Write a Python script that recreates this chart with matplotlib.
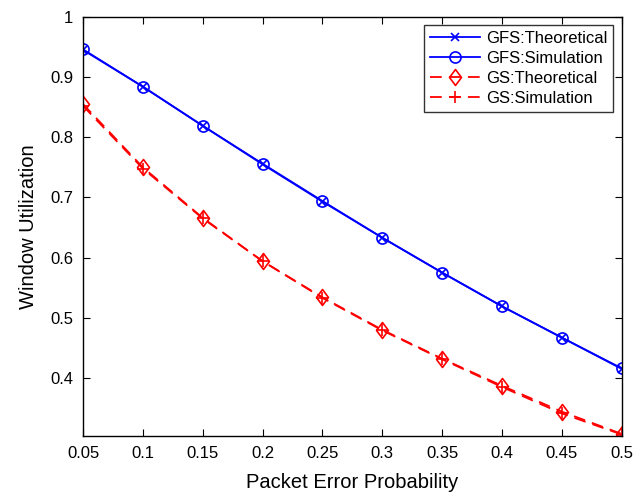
import matplotlib
matplotlib.use("Agg")
import matplotlib.pyplot as plt
from matplotlib.path import Path

plt.rcParams['font.family'] = ['Liberation Sans', 'DejaVu Sans']

p = [0.05, 0.1, 0.15, 0.2, 0.25, 0.3, 0.35, 0.4, 0.45, 0.5]
gfs_theo = [0.945, 0.884, 0.819, 0.755, 0.693, 0.633, 0.575, 0.519, 0.467, 0.415]
gfs_sim = [0.946, 0.884, 0.819, 0.756, 0.694, 0.633, 0.575, 0.519, 0.467, 0.416]
gs_theo = [0.855, 0.750, 0.666, 0.594, 0.534, 0.480, 0.432, 0.387, 0.344, 0.307]
gs_sim = [0.852, 0.748, 0.665, 0.594, 0.533, 0.479, 0.431, 0.385, 0.341, 0.306]
xticks = [0.05, 0.1, 0.15, 0.2, 0.25, 0.3, 0.35, 0.4, 0.45, 0.5]
xticklabels = ['0.05', '0.1', '0.15', '0.2', '0.25', '0.3', '0.35', '0.4', '0.45', '0.5']
yticks = [0.4, 0.5, 0.6, 0.7, 0.8, 0.9, 1.0]
yticklabels = ['0.4', '0.5', '0.6', '0.7', '0.8', '0.9', '1']

diamond = Path([(0, 1), (0.75, 0), (0, -1), (-0.75, 0), (0, 1)],
               [Path.MOVETO, Path.LINETO, Path.LINETO, Path.LINETO, Path.CLOSEPOLY])

fig = plt.figure(figsize=(6.41, 4.96), dpi=100)
ax = fig.add_axes([0.1295, 0.121, 0.8405, 0.845])

lw = 1.3
dash = (0, (6.5, 4))
ax.plot(p, gfs_theo, color='blue', linestyle='-', marker='x', markersize=6, lw=lw,
        mew=1.2, label='GFS:Theoretical')
ax.plot(p, gfs_sim, color='blue', linestyle='-', marker='o', markersize=8, lw=lw,
        mfc='none', mew=1.2, label='GFS:Simulation')
ax.plot(p, gs_theo, color='red', linestyle=dash, marker=diamond, markersize=11.5, lw=lw,
        mfc='none', mew=1.2, label='GS:Theoretical')
ax.plot(p, gs_sim, color='red', linestyle=dash, marker='+', markersize=8, lw=lw,
        mew=1.2, label='GS:Simulation')

ax.set_xlim(0.05, 0.5)
ax.set_ylim(0.3036, 1.0)
ax.set_xticks(xticks)
ax.set_xticklabels(xticklabels)
ax.set_yticks(yticks)
ax.set_yticklabels(yticklabels)
ax.tick_params(direction='in', top=True, right=True, labelsize=12, length=5, pad=7)
for s in ax.spines.values():
    s.set_linewidth(1.0)

ax.set_xlabel('Packet Error Probability', fontsize=14.5, labelpad=9)
ax.set_ylabel('Window Utilization', fontsize=14.5, labelpad=9)

leg = ax.legend(loc='upper right', fontsize=12, frameon=True, fancybox=False,
                edgecolor='black', handlelength=3.0, borderpad=0.35,
                labelspacing=0.3, borderaxespad=0.5, handletextpad=0.4)
leg.get_frame().set_linewidth(1.0)

fig.savefig('out.png', dpi=100)
